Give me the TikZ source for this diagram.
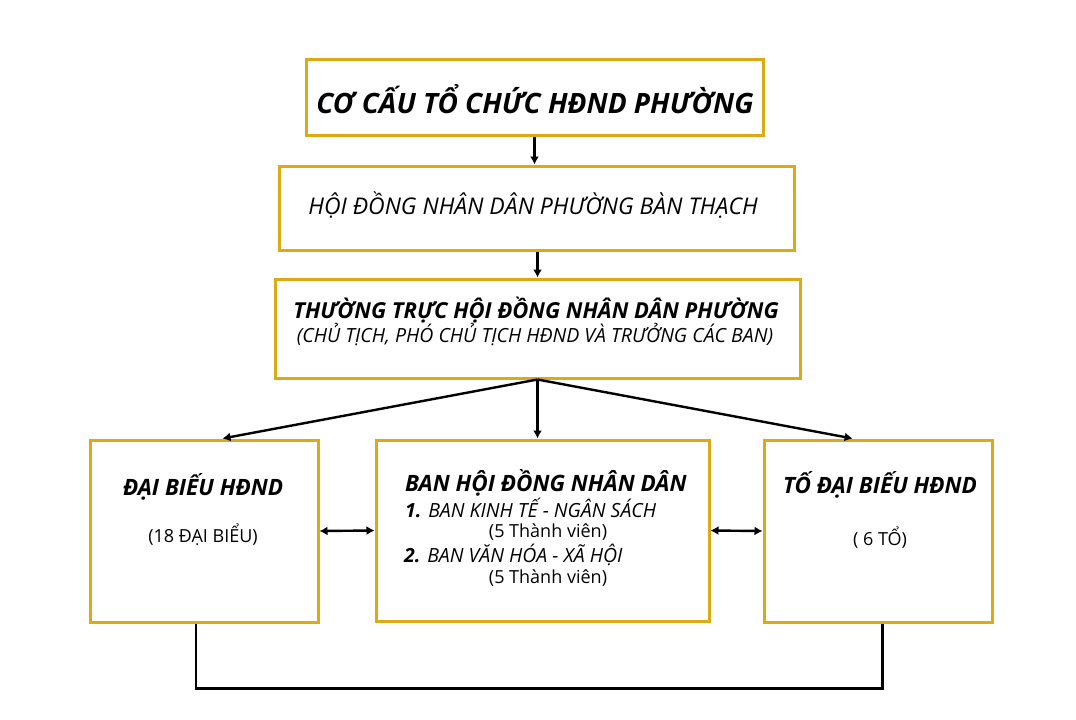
\documentclass[tikz,border=0pt]{standalone}
\usepackage{fontspec}
\setmainfont{Open Sans}
\usetikzlibrary{arrows.meta,calc}
\definecolor{gold}{RGB}{220,170,20}
\tikzset{
  box/.style={draw=gold, line width=3pt, fill=white, rectangle, inner sep=0pt},
  conn/.style={draw=black, line width=2.4pt},
  arr/.style={conn, -{Latex[length=8pt,width=9pt]}},
  darr/.style={conn, {Latex[length=8pt,width=9pt]}-{Latex[length=8pt,width=9pt]}},
  txt/.style={inner sep=0pt, text=black},
}
\begin{document}
\begin{tikzpicture}[x=1pt,y=-1pt]
\useasboundingbox[fill=white] (0,0) rectangle (1076,720);
% boxes
\node[box, minimum width=457pt, minimum height=76pt] (b1) at (534.5,97) {};
\node[box, minimum width=515pt, minimum height=84pt] (b2) at (536.5,208) {};
\node[box, minimum width=525pt, minimum height=99pt] (b3) at (537.5,328.5) {};
\node[box, minimum width=228pt, minimum height=182pt] (b4) at (204,531) {};
\node[box, minimum width=333pt, minimum height=181pt] (b5) at (542.5,530.5) {};
\node[box, minimum width=228pt, minimum height=182pt] (b6) at (878,531) {};
% texts
\node[txt, font=\fontsize{28}{32}\selectfont\bfseries\itshape] (t1) at (535,99) {CƠ CẤU TỔ CHỨC HĐND PHƯỜNG};
\node[txt, font=\fontsize{23}{27}\selectfont\itshape] (t2) at (533,205) {HỘI ĐỒNG NHÂN DÂN PHƯỜNG BÀN THẠCH};
\node[txt, font=\fontsize{22}{26}\selectfont\bfseries\itshape] (t3a) at (536,310) {THƯỜNG TRỰC HỘI ĐỒNG NHÂN DÂN PHƯỜNG};
\node[txt, font=\fontsize{19.5}{23}\selectfont\itshape] (t3b) at (535,335) {(CHỦ TỊCH, PHÓ CHỦ TỊCH HĐND VÀ TRƯỞNG CÁC BAN)};
\node[txt, font=\fontsize{22.5}{26}\selectfont\bfseries\itshape] (t4a) at (203,487) {ĐẠI BIẾU HĐND};
\node[txt, font=\fontsize{18}{22}\selectfont] (t4b) at (203,535) {(18 ĐẠI BIỂU)};
\node[txt, font=\fontsize{22.5}{26}\selectfont\bfseries\itshape, anchor=west] (t5a) at (405,483) {BAN HỘI ĐỒNG NHÂN DÂN};
\node[txt, font=\fontsize{19.5}{23}\selectfont\itshape, anchor=west] (t5b) at (405,508) {\textbf{1.} BAN KINH TẾ - NGÂN SÁCH};
\node[txt, font=\fontsize{18}{22}\selectfont] (t5c) at (548,532) {(5 Thành viên)};
\node[txt, font=\fontsize{19.5}{23}\selectfont\itshape, anchor=west] (t5d) at (404,555) {\textbf{2.} BAN VĂN HÓA - XÃ HỘI};
\node[txt, font=\fontsize{18}{22}\selectfont] (t5e) at (548,578) {(5 Thành viên)};
\node[txt, font=\fontsize{22.5}{26}\selectfont\bfseries\itshape] (t6a) at (880,485) {TỐ ĐẠI BIẾU HĐND};
\node[txt, font=\fontsize{18}{22}\selectfont] (t6b) at (880,538) {( 6 TỔ)};
% connectors
\draw[arr] (b1.south) -- (b1.south |- b2.north);
\draw[arr] (b2.south -| b3.north) -- (b3.north);
\coordinate (l4) at ($(b4.north west)!0.58!(b4.north east)$);
\coordinate (r6) at ($(b6.north west)!0.39!(b6.north east)$);
\draw[arr] (b3.south) -- (l4);
\draw[arr] (b3.south) -- (b5.north -| b3.south);
\draw[arr] (b3.south) -- (r6);
\draw[darr] (b4.east) -- (b5.west);
\draw[darr] (b5.east) -- (b6.west);
\coordinate (s4) at ($(b4.south west)!0.465!(b4.south east)$);
\coordinate (s6) at ($(b6.south west)!0.52!(b6.south east)$);
\draw[conn] (s4) -- ($(s4)+(0,65)$) -| (s6);
\end{tikzpicture}
\end{document}
